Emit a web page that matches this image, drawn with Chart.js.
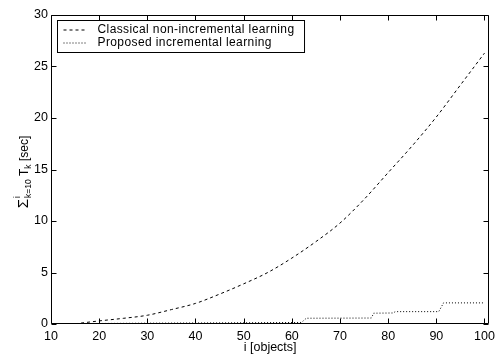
<!DOCTYPE html>
<html lang="en">
<head>
<meta charset="UTF-8">
<title>Learning time</title>
<script src="https://cdn.jsdelivr.net/npm/chart.js"></script>
<style>
  html, body { margin: 0; padding: 0; background: #fff; }
</style>
</head>
<body>
<canvas id="timeChart" width="500" height="356"></canvas>
<script>
// values
var classicalI = [15, 20, 25, 30, 35, 40, 45, 50, 55, 60, 65, 70, 75, 80, 85, 90, 95, 100];
var classicalT = [0.02, 0.3, 0.55, 0.85, 1.4, 2.0, 2.9, 3.9, 5.0, 6.4, 8.0, 9.8, 12.1, 14.7, 17.3, 20.1, 23.2, 26.3];

var proposedI = [15, 20, 30, 40, 50, 62, 63, 76.5, 77, 81, 81.5, 90.5, 91.5, 100];
var proposedT = [0.02, 0.05, 0.08, 0.1, 0.12, 0.15, 0.56, 0.58, 1.05, 1.07, 1.2, 1.2, 2.05, 2.05];

var xTicks = [10, 20, 30, 40, 50, 60, 70, 80, 90, 100];
var yTicks = [0, 5, 10, 15, 20, 25, 30];

var FONT = "'Liberation Sans', Arial, Helvetica, sans-serif";

function toPoints(xs, ys) {
    return xs.map(function(x, n) { return { x: x, y: ys[n] }; });
}

// box round the axes with inward ticks on all four sides, like matlab
var framePlugin = {
    id: 'frame',
    afterDatasetsDraw: function(chart) {
        var ctx = chart.ctx, a = chart.chartArea;
        var xs = chart.scales.x, ys = chart.scales.y;
        var L = Math.round(a.left) + 0.5, R = Math.round(a.right) - 0.5;
        var T = Math.round(a.top) + 0.5, B = Math.round(a.bottom) - 0.5;
        ctx.save();
        ctx.strokeStyle = '#000';
        ctx.lineWidth = 1;
        ctx.beginPath();
        ctx.rect(L, T, R - L, B - T);
        xTicks.forEach(function(v) {
            var px = Math.round(xs.getPixelForValue(v)) + 0.5;
            ctx.moveTo(px, B); ctx.lineTo(px, B - 5);
            ctx.moveTo(px, T); ctx.lineTo(px, T + 5);
        });
        yTicks.forEach(function(v) {
            var py = Math.round(ys.getPixelForValue(v)) + 0.5;
            ctx.moveTo(L, py); ctx.lineTo(L + 5, py);
            ctx.moveTo(R, py); ctx.lineTo(R - 5, py);
        });
        ctx.stroke();
        ctx.restore();
    }
};

// boxed legend in the upper left corner
var legendPlugin = {
    id: 'boxLegend',
    afterDraw: function(chart) {
        var ctx = chart.ctx, a = chart.chartArea;
        var sets = chart.data.datasets;
        ctx.save();
        ctx.font = '12px ' + FONT;
        ctx.letterSpacing = '0.4px';
        var textW = 0;
        sets.forEach(function(ds) { textW = Math.max(textW, ctx.measureText(ds.label).width); });
        var x0 = Math.round(a.left) + 6.5, y0 = Math.round(a.top) + 5.5;
        var w = 40 + textW + 10, h = 32;
        ctx.fillStyle = '#fff';
        ctx.fillRect(x0, y0, w, h);
        ctx.strokeStyle = '#000';
        ctx.lineWidth = 1;
        ctx.strokeRect(x0, y0, w, h);
        sets.forEach(function(ds, n) {
            var y = y0 + 9.5 + n * 13;
            ctx.setLineDash(ds.borderDash || []);
            ctx.beginPath();
            ctx.moveTo(x0 + 6, y);
            ctx.lineTo(x0 + 30, y);
            ctx.stroke();
            ctx.setLineDash([]);
            ctx.fillStyle = '#000';
            ctx.textBaseline = 'middle';
            ctx.fillText(ds.label, x0 + 40, y);
        });
        ctx.restore();
    }
};

// y label: sum from k=10 to i of T_k [sec], drawn rotated
var yTitlePlugin = {
    id: 'yTitle',
    afterDraw: function(chart) {
        var ctx = chart.ctx;
        var big = '15px ' + FONT, mid = '12px ' + FONT, small = '8.5px ' + FONT;
        ctx.save();
        ctx.fillStyle = '#000';
        ctx.textBaseline = 'alphabetic';
        ctx.font = big; var wS = ctx.measureText('\u03A3').width;
        ctx.font = small; var wLim = Math.max(ctx.measureText('i').width, ctx.measureText('k=10').width);
        var wk = ctx.measureText('k').width;
        ctx.font = mid; var wT = ctx.measureText(' T').width, wSec = ctx.measureText(' [sec]').width;
        var total = wS + 1 + wLim + wT + wk + wSec;
        ctx.translate(28, 172);
        ctx.rotate(-Math.PI / 2);
        var x = -total / 2;
        ctx.font = big; ctx.fillText('\u03A3', x, 0); x += wS + 1;
        ctx.font = small; ctx.fillText('i', x, -8); ctx.fillText('k=10', x, 3); x += wLim;
        ctx.font = mid; ctx.fillText(' T', x, 0); x += wT;
        ctx.font = small; ctx.fillText('k', x, 3); x += wk;
        ctx.font = mid; ctx.fillText(' [sec]', x, 0);
        ctx.restore();
    }
};

var ctx = document.getElementById('timeChart').getContext('2d');
var timeChart = new Chart(ctx, {
    type: 'line',
    data: {
        datasets: [{
            label: 'Classical non-incremental learning',
            data: toPoints(classicalI, classicalT),
            borderColor: '#000',
            borderWidth: 1,
            borderDash: [3, 3],
            pointRadius: 0,
            cubicInterpolationMode: 'monotone',
            fill: false
        }, {
            label: 'Proposed incremental learning',
            data: toPoints(proposedI, proposedT),
            borderColor: '#000',
            borderWidth: 1,
            borderDash: [1, 2],
            pointRadius: 0,
            fill: false
        }]
    },
    options: {
        responsive: false,
        animation: false,
        layout: { padding: { left: 0, top: 15, right: 7, bottom: 0 } },
        plugins: { legend: { display: false }, tooltip: { enabled: false } },
        scales: {
            x: {
                type: 'linear',
                min: 10,
                max: 101,
                afterBuildTicks: function(s) { s.ticks = xTicks.map(function(v) { return { value: v }; }); },
                afterFit: function(s) { s.height = 32; },
                grid: { display: false, drawTicks: false },
                border: { display: false },
                ticks: { color: '#000', padding: 5, maxRotation: 0, font: { family: FONT, size: 12.5 } },
                title: { display: true, text: 'i [objects]', color: '#000', padding: { top: 0, bottom: 1 }, font: { family: FONT, size: 12.5 } }
            },
            y: {
                min: 0,
                max: 30,
                afterBuildTicks: function(s) { s.ticks = yTicks.map(function(v) { return { value: v }; }); },
                afterFit: function(s) { s.width = 51; },
                grid: { display: false, drawTicks: false },
                border: { display: false },
                ticks: { color: '#000', padding: 3, font: { family: FONT, size: 12.5 } }
            }
        }
    },
    plugins: [framePlugin, legendPlugin, yTitlePlugin]
});
</script>
</body>
</html>
